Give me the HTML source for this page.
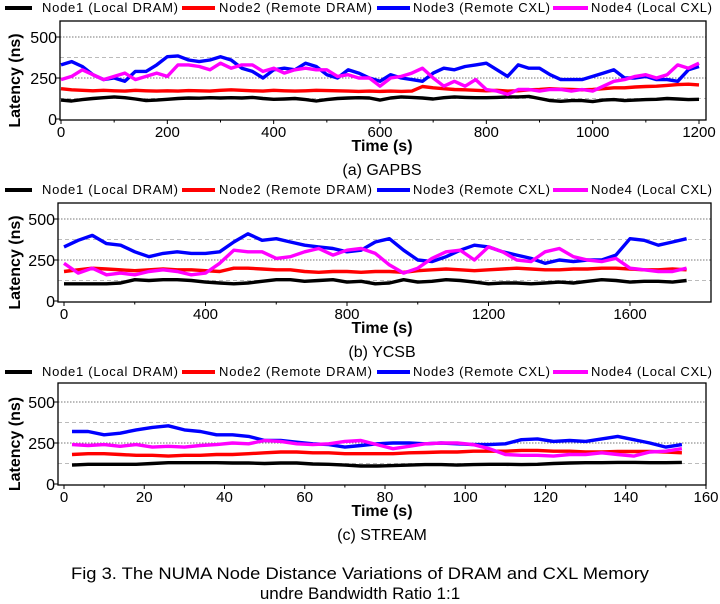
<!DOCTYPE html>
<html><head><meta charset="utf-8"><style>
html,body{margin:0;padding:0;background:#fff;}
svg{display:block;font-family:"Liberation Sans",sans-serif;}
</style></head><body>
<svg id="fig" width="720" height="604" viewBox="0 0 720 604" xmlns="http://www.w3.org/2000/svg">
<text x="360" y="579" text-anchor="middle" font-size="17" textLength="578" lengthAdjust="spacingAndGlyphs">Fig 3. The NUMA Node Distance Variations of DRAM and CXL Memory</text>
<text x="360" y="599" text-anchor="middle" font-size="17">undre Bandwidth Ratio 1:1</text>
</svg>
<script>
// ---- chart (a) GAPBS: x step 20 s ----
const gapbsStep = 20;
const gapbsNode1 = [115,110,118,125,130,135,130,122,112,115,120,125,128,127,130,128,130,128,132,125,120,122,125,118,110,118,125,128,130,128,115,128,135,132,128,122,130,135,132,130,130,132,135,135,138,125,112,108,112,112,106,115,118,112,115,118,120,125,122,118,120];
const gapbsNode2 = [185,178,175,172,175,172,170,175,172,170,172,170,173,172,170,175,178,175,172,170,175,172,170,172,175,173,172,170,168,170,168,170,168,170,198,190,185,180,178,175,172,175,170,172,178,180,185,182,180,178,180,185,190,190,195,198,200,205,210,212,208];
const gapbsNode3 = [330,350,320,270,240,250,230,290,290,330,380,385,360,350,360,380,360,310,290,250,300,310,300,340,320,270,250,300,280,250,230,270,250,240,230,280,310,300,320,330,340,300,260,330,310,310,270,240,240,240,260,280,300,250,250,260,240,240,230,300,320];
const gapbsNode4 = [240,260,300,270,240,260,280,240,260,280,260,330,330,320,300,340,310,330,330,290,310,280,300,310,300,300,260,270,250,250,200,250,260,280,310,250,200,230,200,240,180,170,150,180,180,170,180,180,170,180,170,200,230,240,260,270,250,270,330,310,340];
const gapbsTicks = [0,200,400,600,800,1000,1200];
// ---- chart (b) YCSB: x step 40 s ----
const ycsbStep = 40;
const ycsbNode1 = [105,105,105,105,110,130,125,130,130,125,115,110,105,110,120,130,130,120,125,130,115,120,105,110,130,115,120,130,125,115,105,110,110,105,110,115,110,120,130,125,115,120,120,115,125];
const ycsbNode2 = [180,190,200,195,190,185,190,195,190,190,185,180,200,200,195,190,190,180,175,180,180,175,180,180,175,185,190,195,190,185,190,195,200,195,190,190,195,195,200,200,195,190,190,195,190];
const ycsbNode3 = [330,370,400,350,340,300,270,290,300,290,290,300,360,410,370,380,360,340,330,320,300,310,360,380,310,250,240,270,310,340,330,300,280,260,230,250,240,250,250,280,380,370,340,360,380];
const ycsbNode4 = [230,170,200,160,170,160,180,190,180,160,170,230,310,300,300,260,270,300,320,280,310,320,290,220,170,200,260,300,310,250,330,300,250,240,300,320,270,250,240,260,200,190,180,180,200];
const ycsbTicks = [0,400,800,1200,1600];
// ---- chart (c) STREAM: x from 2 s, step 4 s ----
const streamStart = 2;
const streamStep = 4;
const streamNode1 = [115,120,120,120,120,125,130,130,130,130,128,128,125,128,128,122,120,115,110,110,112,115,118,118,115,118,120,120,118,120,125,128,130,130,132,132,130,130,132];
const streamNode2 = [180,185,185,180,175,175,170,175,175,180,180,185,190,195,195,190,190,185,185,185,185,190,192,195,195,200,200,200,205,205,200,200,195,195,198,198,198,195,190];
const streamNode3 = [320,320,300,310,330,345,355,330,320,300,300,290,265,265,255,245,240,225,235,245,250,250,245,250,245,240,240,245,270,275,260,265,260,275,290,270,250,225,240];
const streamNode4 = [240,235,240,230,240,225,230,225,235,240,250,245,265,260,245,240,245,260,265,240,215,230,245,250,250,240,215,180,175,175,170,180,180,190,180,170,195,200,215];
const streamTicks = [0,20,40,60,80,100,120,140,160];
const yTicks = [0,250,500];
const legendLabels = ["Node1 (Local DRAM)","Node2 (Remote DRAM)","Node3 (Remote CXL)","Node4 (Local CXL)"];

const colors = ["#000000","#ff0000","#0000ff","#ff00ff"];
const NS = "http://www.w3.org/2000/svg";
const svg = document.getElementById('fig');
function mk(tag, attrs, parent){const e=document.createElementNS(NS,tag);for(const k in attrs)e.setAttribute(k,attrs[k]);(parent||svg).appendChild(e);return e;}

function chart(cfg){
  const g = mk('g',{});
  
  
  const sx = v => cfg.px0 + (v - 0) * (cfg.px1 - cfg.px0) / cfg.xRef;
  const sy = v => cfg.py0 - v * (cfg.py0 - cfg.py500) / 500;
  const lx = [[5,32,42,178],[182,215,219,372],[377,410,413,550],[553,588,591,712]];
  legendLabels.forEach((lab,i)=>{
    const ln = mk('line',{x1:lx[i][0],x2:lx[i][1],y1:cfg.ly-4,y2:cfg.ly-4,stroke:colors[i],'stroke-width':4},g);
    
    
    const t = mk('text',{x:lx[i][2],y:cfg.ly,'font-size':13,textLength:lx[i][3]-lx[i][2],lengthAdjust:'spacing'},g);
    t.textContent = lab;
    
    
  });
  [125,250,375,500].forEach(v=>{
    const dark = v%250===0;
    const gl = mk('line',{x1:cfg.bx0,x2:cfg.bx1,y1:sy(v),y2:sy(v),stroke:dark?'#777':'#bbb','stroke-width':1,'stroke-dasharray':dark?'1.5,1.5':'4,3'},g);
    
    
  });
  cfg.series.forEach((arr,i)=>{
    const pts = arr.map((v,j)=>sx(cfg.xStart + j*cfg.step).toFixed(1)+','+sy(v).toFixed(1)).join(' ');
    const pl = mk('polyline',{points:pts,fill:'none',stroke:colors[i],'stroke-width':3.4,'stroke-linejoin':'round'},g);
    
    
  });
  const box = mk('rect',{x:cfg.bx0,y:cfg.by0,width:cfg.bx1-cfg.bx0,height:cfg.by1-cfg.by0,fill:'none',stroke:'#000','stroke-width':1.3},g);
  
  
  cfg.xTicks.forEach((v,k)=>{
    mk('line',{x1:sx(v),x2:sx(v),y1:cfg.by1,y2:cfg.by1+4,stroke:'#000','stroke-width':1},g);
    if(k<cfg.xTicks.length-1){const m=(v+cfg.xTicks[k+1])/2;mk('line',{x1:sx(m),x2:sx(m),y1:cfg.by1,y2:cfg.by1+2.5,stroke:'#000','stroke-width':1},g);}
    const t = mk('text',{x:sx(v),y:cfg.by1+17,'font-size':15,'text-anchor':'middle'},g);
    t.textContent = v;
    
    
  });
  yTicks.forEach(v=>{
    mk('line',{x1:cfg.bx0-4,x2:cfg.bx0,y1:sy(v),y2:sy(v),stroke:'#000','stroke-width':1},g);
    const t = mk('text',{x:cfg.bx0-3,y:sy(v)+6,'font-size':16,'text-anchor':'end'},g);
    t.textContent = v;
    
    
  });
  const yt = mk('text',{x:0,y:0,'font-size':16,'font-weight':'bold','text-anchor':'middle',transform:`translate(20,${(cfg.by0+cfg.by1)/2+10}) rotate(-90)`},g);
  yt.textContent = 'Latency (ns)';
  
  
  const xt = mk('text',{x:382,y:cfg.by1+31,'font-size':16,'font-weight':'bold','text-anchor':'middle'},g);
  xt.textContent = 'Time (s)';
  
  
  const ct = mk('text',{x:382,y:cfg.by1+55,'font-size':16,'text-anchor':'middle'},g);
  ct.textContent = cfg.caption;
  
  
}
chart({name:'chart-gapbs',caption:'(a) GAPBS',ly:12,bx0:60,bx1:706,by0:21,by1:120,px0:61,px1:699,xRef:1200,py0:119,py500:37,xStart:0,step:gapbsStep,xTicks:gapbsTicks,series:[gapbsNode1,gapbsNode2,gapbsNode3,gapbsNode4]});
chart({name:'chart-ycsb',caption:'(b) YCSB',ly:194,bx0:58,bx1:711,by0:203,by1:302,px0:64,px1:630,xRef:1600,py0:301,py500:219,xStart:0,step:ycsbStep,xTicks:ycsbTicks,series:[ycsbNode1,ycsbNode2,ycsbNode3,ycsbNode4]});
chart({name:'chart-stream',caption:'(c) STREAM',ly:376,bx0:58,bx1:706,by0:383,by1:485,px0:64,px1:706,xRef:160,py0:484,py500:402,xStart:streamStart,step:streamStep,xTicks:streamTicks,series:[streamNode1,streamNode2,streamNode3,streamNode4]});
</script>
</body></html>
